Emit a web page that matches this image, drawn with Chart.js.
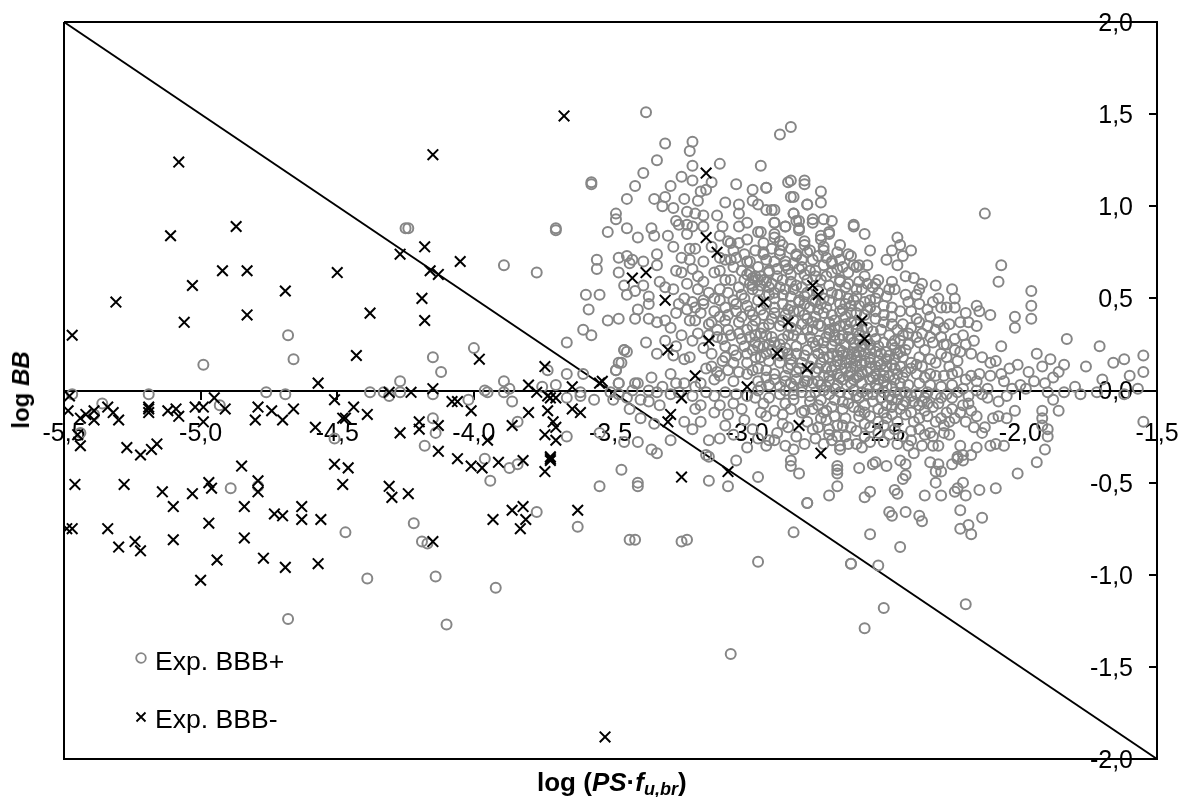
<!DOCTYPE html>
<html>
<head>
<meta charset="utf-8">
<script src="https://cdnjs.cloudflare.com/ajax/libs/Chart.js/4.4.0/chart.umd.js"></script>
<style>
    body { margin: 0; background: #fff; font-family: "Liberation Sans", Arial, sans-serif; color: #000; }
    #chartContainer { position: relative; width: 1184px; height: 797px; overflow: hidden; }
    .txt { position: absolute; white-space: nowrap; }
    #xTitle { left: 537px; top: 768px; font-size: 26px; line-height: 28px; font-weight: bold; }
    #xTitle sub { font-size: 18px; line-height: 0; vertical-align: -4px; }
    #yTitle { left: 21px; top: 390px; font-size: 24px; line-height: 28px; font-weight: bold; transform: translate(-50%, -50%) rotate(-90deg); }
    .legendText { left: 155px; font-size: 26.6px; line-height: 30px; }
    .legendMark { position: absolute; left: 134px; width: 14px; height: 14px; }
</style>
</head>
<body>
<div id="chartContainer">
    <canvas id="myChart" width="1184" height="797"></canvas>
    <div class="txt" id="xTitle">log (<i>PS</i>·<i>f<sub>u,br</sub></i>)</div>
    <div class="txt" id="yTitle">log <i>BB</i></div>
    <svg class="legendMark" style="top:651px" viewBox="0 0 14 14"><circle cx="7" cy="7" r="4.8" fill="none" stroke="#868686" stroke-width="1.8"/></svg>
    <div class="txt legendText" style="top:646px">Exp. BBB+</div>
    <svg class="legendMark" style="top:710px" viewBox="0 0 14 14"><path d="M2.5 2.5L11.5 11.5M11.5 2.5L2.5 11.5" stroke="#000" stroke-width="1.8"/></svg>
    <div class="txt legendText" style="top:704px">Exp. BBB-</div>
</div>

<script>
    // ticks
    var xTicks = [-5.5, -5, -4.5, -4, -3.5, -3, -2.5, -2, -1.5];
    var yTicks = [-2, -1.5, -1, -0.5, 0, 0.5, 1, 1.5, 2];

    // frame and diagonal line
    var frameLine = [[-5.5, 2], [-1.5, 2], [-1.5, -2], [-5.5, -2], [-5.5, 2]];
    var diagonalLine = [[-5.5, 2], [-1.5, -2]];

    // Exp. BBB- [log PS*fu, log BB]
    var expBBBMinus = [
        [-5.48,-0.03],[-5.485,-0.11],[-5.44,-0.15],[-5.42,-0.13],[-5.39,-0.11],[-5.39,-0.16],[-5.34,-0.09],[-5.32,-0.12],[-5.30,-0.16],
        [-5.19,-0.09],[-5.19,-0.10],[-5.19,-0.12],[-5.12,-0.11],[-5.09,-0.10],[-5.08,-0.14],[-5.02,-0.09],[-4.99,-0.09],[-4.95,-0.04],
        [-4.91,-0.10],[-4.99,-0.17],[-4.79,-0.09],[-4.74,-0.11],[-4.80,-0.16],[-4.70,-0.16],[-4.66,-0.10],[-4.57,0.04],[-4.51,-0.05],
        [-4.58,-0.20],[-4.47,-0.15],[-5.45,-0.24],[-5.44,-0.30],[-5.27,-0.31],[-5.22,-0.35],[-5.18,-0.32],[-5.16,-0.29],
        [-5.46,-0.51],[-5.28,-0.51],[-5.14,-0.55],[-5.10,-0.63],[-5.03,-0.56],[-4.97,-0.50],[-4.96,-0.53],[-4.85,-0.41],[-4.79,-0.49],
        [-4.79,-0.55],[-4.84,-0.63],[-4.73,-0.67],[-4.70,-0.68],[-4.63,-0.63],[-4.63,-0.70],[-4.56,-0.70],[-4.51,-0.40],[-4.46,-0.42],
        [-4.48,-0.51],[-5.49,-0.75],[-5.47,-0.75],[-5.34,-0.75],[-5.30,-0.85],[-5.24,-0.82],[-5.22,-0.87],[-5.10,-0.81],[-4.97,-0.72],
        [-4.84,-0.80],[-4.94,-0.92],[-4.77,-0.91],[-4.69,-0.96],[-4.57,-0.94],[-5.00,-1.03],
        [-4.43,0.19],[-3.98,0.17],[-3.74,0.13],[-4.31,-0.01],[-4.23,-0.01],[-4.15,0.01],[-3.80,0.03],[-3.64,0.02],[-3.53,0.05],[-3.54,0.04],
        [-4.44,-0.09],[-4.48,-0.15],[-4.39,-0.13],[-4.08,-0.06],[-4.06,-0.06],[-4.01,-0.11],[-3.77,-0.01],[-3.73,-0.03],[-3.72,-0.04],[-3.70,-0.04],
        [-3.80,-0.12],[-3.73,-0.11],[-3.64,-0.10],[-3.61,-0.12],[-4.20,-0.17],[-4.20,-0.21],[-4.13,-0.19],[-4.27,-0.23],[-3.86,-0.19],
        [-3.71,-0.17],[-3.70,-0.20],[-3.74,-0.24],[-3.70,-0.27],[-3.95,-0.27],[-4.13,-0.33],[-4.06,-0.37],[-4.01,-0.41],[-3.97,-0.42],
        [-3.91,-0.39],[-3.82,-0.38],[-3.72,-0.36],[-3.72,-0.37],[-3.72,-0.38],[-3.74,-0.44],[-4.31,-0.52],[-4.30,-0.58],[-4.24,-0.56],
        [-3.62,-0.65],[-3.86,-0.65],[-3.82,-0.63],[-3.81,-0.70],[-3.83,-0.75],[-3.93,-0.70],[-4.15,-0.82],
        [-5.47,0.30],[-5.31,0.48],[-5.11,0.84],[-5.08,1.24],[-5.06,0.37],[-5.03,0.57],[-4.92,0.65],[-4.87,0.89],[-4.83,0.65],[-4.83,0.41],
        [-4.69,0.54],[-4.50,0.64],[-4.38,0.42],[-4.27,0.74],[-4.18,0.78],[-4.19,0.50],[-4.18,0.38],[-4.16,0.65],[-4.13,0.63],[-4.15,1.28],
        [-4.05,0.70],[-3.67,1.49],[-3.52,-1.88],
        [-3.15,1.18],[-3.15,0.83],[-3.11,0.75],[-3.42,0.61],[-3.37,0.64],[-3.30,0.49],[-3.29,0.22],[-3.14,0.27],[-3.19,0.08],[-2.94,0.48],
        [-2.85,0.37],[-2.89,0.20],[-2.78,0.12],[-2.76,0.57],[-2.74,0.52],[-3.00,0.02],[-2.58,0.38],[-2.57,0.28],[-2.81,-0.19],[-2.73,-0.34],
        [-3.24,-0.04],[-3.28,-0.13],[-3.29,-0.17],[-3.24,-0.47],[-3.07,-0.44]
    ];

    // Exp. BBB+ [log PS*fu, log BB]
    var expBBBPlus = [
        // left part
        [-4.99,0.14],[-4.66,0.17],[-4.68,0.30],[-5.47,-0.02],[-5.36,-0.07],[-5.19,-0.02],[-4.93,-0.08],[-4.76,-0.01],[-4.69,-0.02],[-5.39,-0.13],
        [-5.44,-0.23],[-4.89,-0.53],[-4.79,-0.52],[-4.51,-0.26],[-4.47,-0.77],[-4.15,0.18],[-4.00,0.23],[-4.12,0.10],[-4.27,0.05],[-4.38,-0.01],
        [-4.33,-0.01],[-4.31,-0.03],[-4.27,-0.01],[-4.15,-0.02],[-4.02,-0.05],[-3.96,0],[-3.95,-0.01],[-3.89,-0.01],[-3.89,0.05],[-3.87,0.01],
        [-3.86,-0.06],[-4.15,-0.15],[-4.14,-0.23],[-4.18,-0.30],[-3.84,-0.17],[-3.96,-0.37],[-3.87,-0.42],[-3.84,-0.40],[-3.94,-0.49],[-3.77,-0.66],
        [-3.62,-0.74],[-4.22,-0.72],[-4.19,-0.82],[-4.17,-0.83],[-4.39,-1.02],[-4.14,-1.01],[-3.92,-1.07],[-3.73,0.11],[-3.66,0.09],[-3.60,0.09],
        [-3.75,0.02],[-3.70,0.03],[-3.66,-0.04],[-3.61,-0.01],[-3.61,-0.03],[-3.56,-0.05],[-3.66,-0.25],[-3.45,-0.28],[-3.40,-0.28],[-3.54,-0.23],
        [-3.46,-0.43],[-3.54,-0.52],[-3.40,-0.50],[-3.40,-0.52],[-3.43,-0.81],[-3.41,-0.81],[-3.45,0.22],[-3.44,0.21],[-3.46,0.15],[-3.48,0.11],
        [-3.47,0.04],[-3.40,0.04],[-3.42,0],[-4.25,0.88],[-4.24,0.88],[-3.89,0.68],[-3.77,0.64],[-3.70,0.87],[-3.57,1.12],[-3.37,1.51],
        [-4.68,-1.24],[-4.10,-1.27],[-3.06,-1.43],[-2.57,-1.29],[-2.50,-1.18],[-2.52,-0.95],[-2.62,-0.94],[-2.20,-1.16],[-2.96,-0.93],[-2.83,-0.77],
        [-2.78,-0.61],[-3.24,-0.82],[-3.22,-0.81],[-2.96,-0.47],[-3.07,-0.52],[-3.14,-0.49],[-3.15,-0.35],[-2.55,-0.78],[-2.44,-0.85],[-3.66,0.26],
        // upper fan
        [-2.84,1.43],[-2.88,1.39],[-3.30,1.34],[-3.20,1.35],[-3.21,1.30],[-3.33,1.25],[-3.10,1.23],[-3.20,1.22],[-3.38,1.18],[-2.95,1.22],
        [-3.57,1.13],[-3.41,1.11],[-3.24,1.16],[-3.20,1.14],[-3.28,1.11],[-3.13,1.13],[-3.04,1.12],[-2.98,1.09],[-2.93,1.10],[-2.85,1.13],
        [-2.84,1.14],[-2.79,1.14],[-2.73,1.08],[-2.73,1.02],[-2.78,1.01],[-2.84,1.05],[-3.44,1.04],[-3.34,1.04],[-3.30,1.05],[-3.31,1.00],
        [-3.27,0.99],[-3.23,1.04],[-3.18,1.03],[-3.17,1.08],[-3.15,1.09],[-3.08,1.02],[-3.03,1.01],[-2.98,1.03],[-2.96,1.01],[-2.91,0.98],
        [-2.93,0.98],[-3.48,0.96],[-3.48,0.93],[-3.70,0.88],[-3.51,0.86],[-3.44,0.88],[-3.40,0.83],[-3.35,0.88],[-3.34,0.84],[-3.29,0.84],
        [-3.27,0.78],[-3.26,0.92],[-3.25,0.90],[-3.22,0.90],[-3.20,0.89],[-3.22,0.85],[-3.22,0.97],[-3.19,0.96],[-3.16,0.95],[-3.16,0.89],
        [-3.11,0.95],[-3.09,0.89],[-3.03,0.96],[-3.03,0.89],[-3.00,0.91],[-2.96,0.86],[-2.90,0.91],[-2.90,0.85],[-2.86,0.89],[-2.83,0.96],
        [-2.82,0.92],[-2.81,0.88],[-2.76,0.91],[-2.72,0.93],[-2.69,0.92],[-2.70,0.86],[-2.61,0.90],[-2.73,0.84],[-2.79,0.81],[-2.72,0.78],
        [-2.66,0.79],[-3.21,0.77],[-3.19,0.77],[-3.07,0.81],[-3.03,0.80],[-3.55,0.71],[-3.55,0.66],[-3.47,0.72],[-3.44,0.73],[-3.42,0.71],
        [-3.47,0.64],[-3.38,0.70],[-3.33,0.74],[-3.33,0.68],[-3.43,0.69],[-3.24,0.72],[-3.21,0.71],[-3.26,0.65],[-3.24,0.64],[-3.20,0.66],
        [-3.10,0.65],[-3.16,0.59],[-3.06,0.80],[-3.06,0.71],[-3.05,0.76],[-3.00,0.82],[-3.00,0.63],[-2.99,0.64],[-3.02,0.65],[-2.98,0.61],
        [-2.94,0.74],[-2.92,0.65],[-2.86,0.68],[-2.82,0.74],[-2.80,0.67],[-2.75,0.65],[-2.69,0.69],[-2.63,0.74],[-2.60,0.67],[-2.66,0.59],
        [-3.45,0.57],[-3.44,0.52],[-3.41,0.54],[-3.38,0.57],[-3.32,0.59],[-3.30,0.56],[-3.36,0.51],[-3.36,0.47],[-3.59,0.52],[-3.54,0.52],
        [-3.58,0.44],[-3.40,0.44],[-3.51,0.38],[-3.47,0.39],[-3.41,0.39],[-3.36,0.39],[-3.60,0.33],[-3.57,0.30],[-3.33,0.37],[-3.30,0.38],
        [-3.28,0.34],[-3.26,0.42],[-3.23,0.50],[-3.22,0.44],[-3.19,0.38],[-3.16,0.47],[-3.24,0.30],[-3.37,0.26],[-3.33,0.20],[-3.30,0.27],
        [-3.45,0.22],[-3.47,0.15],[-3.48,0.11],[-3.47,0.04],[-3.41,0.04],[-3.35,0.07],[-3.28,0.09],[-3.21,0.18],[-3.14,0.30],[-3.16,0.23],
        [-3.13,0.20],[-3.09,0.28],[-3.08,0.24],[-3.13,0.13],[-3.23,0.04],[-3.17,0.04],[-3.10,0.08],[-3.05,0.15],[-3.02,0.28],[-2.97,0.18],
        [-2.98,0.11],[-2.93,0.11],[-2.94,0.24],[-3.03,0.37],[-2.98,0.35],[-3.13,0.37],[-3.08,0.38],[-3.16,0.49],[-3.14,0.53],[-3.10,0.49],
        [-3.05,0.49],[-3.10,0.55],[-2.98,0.55],[-2.95,0.57],[-2.90,0.53],[-2.86,0.55],[-2.81,0.49],
        // right edge
        [-2.13,0.96],[-2.07,0.68],[-2.08,0.59],[-1.96,0.54],[-1.96,0.46],[-1.96,0.39],[-2.02,0.40],[-2.02,0.34],[-1.83,0.28],[-2.07,0.24],
        [-1.94,0.20],[-1.89,0.17],[-1.84,0.14],[-1.92,0.13],[-1.86,0.10],[-1.88,0.07],[-1.97,0.10],[-1.95,0.05],[-1.91,0.04],[-2.01,0.14],
        [-2.04,0.12],[-2.09,0.16],[-2.11,0.15],[-2.06,0.05],[-2.07,0.09],[-2.11,0.41],[-2.16,0.46],[-2.15,0.43],[-2.16,0.35],[-2.20,0.42],
        [-2.22,0.37],[-2.19,0.37],[-2.21,0.30],[-2.24,0.50],[-2.24,0.45],[-2.25,0.55],[-2.31,0.57],[-2.32,0.48],[-2.29,0.45],[-2.33,0.40],
        [-2.30,0.37],[-2.26,0.36],[-2.37,0.47],[-2.39,0.61],[-2.36,0.58],[-2.37,0.55],[-2.42,0.62],[-2.46,0.55],[-2.42,0.52],[-2.45,0.83],
        [-2.44,0.79],[-2.40,0.76],[-2.47,0.76],[-2.43,0.73],[-2.49,0.71],[-2.45,0.68],[-2.55,0.76],[-2.57,0.85],[-2.61,0.89],[-2.47,0.59],
        [-2.52,0.60],[-2.50,0.46],[-2.47,0.45],[-2.55,0.45],[-2.40,0.43],[-2.38,0.39],[-2.37,0.37],[-2.43,0.36],[-2.47,0.40],[-2.37,0.26],
        [-2.33,0.29],[-2.29,0.29],[-2.32,0.26],[-2.28,0.25],[-2.37,0.18],[-2.33,0.17],[-2.31,0.15],[-2.27,0.18],[-2.22,0.21],[-2.18,0.20],
        [-2.14,0.18],[-2.23,0.16],[-2.26,0.13],[-2.18,0.08],[-2.15,0.09],[-2.20,0.06],[-2.16,0.05],[-2.11,0.08],[-2.42,0.22],[-2.45,0.20],
        [-2.42,0.10],[-2.38,0.09],[-2.33,0.09],[-2.28,0.08],[-1.80,0.02],[-1.76,0.13],[-1.71,0.24],[-1.66,0.15],[-1.62,0.17],[-1.55,0.19],
        [-1.55,0.10],[-1.60,0.08],[-1.70,0.06],[-1.78,-0.02],[-1.72,-0.01],[-1.55,-0.17],[-1.62,-0.02],[-1.57,0.01],
        // upper right of the cloud
        [-2.93,1.10],[-2.79,1.12],[-2.83,1.05],[-2.78,1.01],[-2.83,0.96],[-2.90,0.98],[-2.81,0.92],[-2.90,0.91],[-2.76,0.93],[-2.86,0.89],
        [-2.81,0.87],[-2.70,0.85],[-2.95,0.86],[-2.90,0.83],[-2.88,0.81],[-2.79,0.79],[-2.73,0.82],[-2.72,0.76],[-2.77,0.76],[-2.82,0.73],
        [-2.88,0.74],[-2.94,0.75],[-2.62,0.73],[-2.66,0.71],[-2.69,0.70],[-2.76,0.71],[-2.86,0.70],[-2.81,0.66],[-2.92,0.64],[-2.61,0.68],
        [-2.59,0.68],[-2.56,0.68],[-2.75,0.62],[-2.71,0.62],[-2.66,0.60],[-2.63,0.58],[-2.59,0.59],[-2.54,0.56],[-2.53,0.58],[-2.87,0.60],
        [-2.94,0.60],[-2.82,0.57],[-2.74,0.54],[-2.67,0.52],[-2.62,0.46],[-2.66,0.43],[-2.71,0.45],[-2.77,0.45],[-2.81,0.48],[-2.87,0.47],[-2.92,0.52],
        // lower part
        [-2.78,-0.61],[-2.70,-0.57],[-2.67,-0.52],[-2.81,-0.45],[-2.84,-0.41],[-2.84,-0.38],[-2.83,-0.32],[-2.86,-0.30],[-2.90,-0.27],[-2.93,-0.30],
        [-2.89,-0.23],[-2.87,-0.18],[-2.67,-0.41],[-2.67,-0.43],[-2.67,-0.45],[-2.66,-0.30],[-2.66,-0.32],[-2.60,-0.29],[-2.63,-0.29],[-2.59,-0.42],
        [-2.54,-0.40],[-2.53,-0.39],[-2.49,-0.41],[-2.44,-0.38],[-2.42,-0.40],[-2.55,-0.55],[-2.57,-0.58],[-2.46,-0.54],[-2.45,-0.56],[-2.42,-0.46],
        [-2.43,-0.48],[-2.35,-0.57],[-2.29,-0.57],[-2.31,-0.50],[-2.33,-0.39],[-2.30,-0.40],[-2.31,-0.44],[-2.29,-0.44],[-2.25,-0.40],[-2.23,-0.37],
        [-2.21,-0.35],[-2.21,-0.38],[-2.18,-0.35],[-2.16,-0.31],[-2.21,-0.50],[-2.23,-0.53],[-2.24,-0.55],[-2.20,-0.57],[-2.15,-0.54],[-2.09,-0.53],
        [-2.01,-0.45],[-1.94,-0.39],[-1.91,-0.32],[-2.11,-0.30],[-2.09,-0.29],[-2.06,-0.30],[-2.14,-0.23],[-2.17,-0.20],[-2.13,-0.20],[-2.16,-0.14],
        [-2.10,-0.15],[-2.08,-0.14],[-2.05,-0.15],[-2.02,-0.11],[-2.08,-0.06],[-2.05,-0.03],[-1.90,-0.21],[-1.90,-0.25],[-1.92,-0.19],[-1.92,-0.15],
        [-1.92,-0.11],[-1.86,-0.11],[-1.88,-0.05],[-1.84,-0.01],[-1.90,-0.01],[-1.98,0.01],[-2.48,-0.66],[-2.47,-0.68],[-2.42,-0.66],[-2.37,-0.68],
        [-2.36,-0.71],[-2.22,-0.65],[-2.22,-0.75],[-2.19,-0.73],[-2.18,-0.78],[-2.14,-0.69],[-2.62,-0.94],[-2.70,-0.21],[-2.70,-0.24],[-2.67,-0.19],
        [-2.67,-0.25],[-2.76,-0.21],[-2.80,-0.12],[-2.83,-0.05],[-2.79,-0.11],[-2.71,-0.11],[-2.69,-0.09],[-2.64,-0.15],[-2.62,-0.20],[-2.59,-0.14],
        [-2.55,-0.28],[-2.52,-0.23],[-2.48,-0.24],[-2.45,-0.29],[-2.41,-0.30],[-2.39,-0.34],[-2.36,-0.30],[-2.32,-0.30],[-2.30,-0.30],[-2.33,-0.23],
        [-2.32,-0.25],[-2.28,-0.23],[-2.26,-0.24],[-2.37,-0.15],[-2.40,-0.22],[-2.37,-0.21],[-2.29,-0.15],[-2.27,-0.12],[-2.25,-0.10],[-2.22,-0.30],
        [-2.23,-0.36],[-2.32,-0.09],[-2.37,-0.08],[-2.42,-0.06],[-2.47,-0.13],[-2.49,-0.15],[-2.45,-0.17],[-2.59,-0.11],[-2.65,-0.10],[-2.59,-0.04],
        [-2.54,-0.06],[-2.51,-0.04],[-2.47,-0.05],[-2.44,-0.02],[-2.38,-0.02],[-2.29,-0.04],[-2.25,-0.04],[-2.19,-0.03],[-2.21,-0.08],[-2.30,-0.07],
        [-2.19,-0.07],[-2.83,-0.02],[-2.77,-0.03],[-2.70,-0.02],[-2.66,-0.01],[-2.60,-0.03],[-2.92,-0.04],[-2.90,-0.11],[-2.94,-0.07],[-2.93,-0.14],
        [-3.49,-0.05],[-3.44,-0.04],[-3.36,-0.06],[-3.34,-0.18],[-3.39,-0.15],[-3.43,-0.10],[-3.35,-0.32],[-3.33,-0.34],[-3.28,-0.27],[-3.23,-0.17],
        [-3.17,-0.08],[-3.14,-0.27],[-3.08,-0.19],[-3.14,-0.36],[-3.04,-0.38],[-3.00,-0.31],[-2.92,-0.27],[-3.01,-0.16],[-2.95,-0.12],[-3.10,-0.08],
        [-3.19,-0.10],[-3.32,-0.08],[-3.25,-0.01],[-3.04,-0.02],[-2.97,-0.04],[-3.39,-0.05],[-3.47,-0.02],[-3.50,-0.01],[-3.12,-0.03],[-3.20,-0.03],
        // dense core
        [-2.95,0.44],[-2.90,0.42],[-2.86,0.41],[-2.83,0.43],[-2.79,0.41],[-2.75,0.40],[-2.72,0.42],[-2.68,0.38],[-2.64,0.40],[-2.60,0.42],
        [-2.57,0.41],[-2.53,0.39],[-2.50,0.37],[-2.45,0.33],[-2.41,0.31],[-2.97,0.38],[-2.92,0.36],[-2.88,0.35],[-2.84,0.34],[-2.80,0.36],
        [-2.76,0.33],[-2.73,0.35],[-2.70,0.33],[-2.66,0.35],[-2.63,0.33],[-2.60,0.36],[-2.56,0.34],[-2.54,0.32],[-2.51,0.33],[-2.48,0.30],
        [-2.95,0.31],[-2.91,0.29],[-2.87,0.28],[-2.83,0.30],[-2.80,0.28],[-2.77,0.29],[-2.74,0.27],[-2.71,0.29],[-2.68,0.27],[-2.65,0.30],
        [-2.62,0.28],[-2.59,0.30],[-2.56,0.27],[-2.53,0.28],[-2.50,0.26],[-2.47,0.25],[-2.44,0.27],[-2.41,0.25],[-2.96,0.24],[-2.91,0.22],
        [-2.86,0.23],[-2.82,0.24],[-2.78,0.22],[-2.75,0.24],[-2.72,0.22],[-2.69,0.24],[-2.66,0.22],[-2.64,0.25],[-2.61,0.23],[-2.58,0.24],
        [-2.55,0.22],[-2.52,0.24],[-2.49,0.21],[-2.46,0.23],[-2.43,0.18],[-2.40,0.15],[-2.92,0.16],[-2.88,0.15],[-2.84,0.17],[-2.80,0.15],
        [-2.76,0.17],[-2.73,0.15],[-2.70,0.18],[-2.67,0.16],[-2.65,0.19],[-2.62,0.17],[-2.60,0.19],[-2.57,0.16],[-2.55,0.18],[-2.52,0.16],
        [-2.49,0.17],[-2.47,0.14],[-2.44,0.13],[-2.40,0.12],[-2.36,0.13],[-2.90,0.09],[-2.86,0.08],[-2.82,0.10],[-2.78,0.08],[-2.75,0.10],
        [-2.72,0.08],[-2.69,0.11],[-2.67,0.09],[-2.64,0.12],[-2.62,0.10],[-2.60,0.13],[-2.58,0.10],[-2.55,0.12],[-2.53,0.09],[-2.50,0.11],
        [-2.48,0.08],[-2.45,0.09],[-2.92,0.03],[-2.88,0.02],[-2.84,0.04],[-2.80,0.02],[-2.76,0.04],[-2.73,0.03],[-2.70,0.05],[-2.67,0.03],
        [-2.65,0.06],[-2.62,0.04],[-2.60,0.07],[-2.58,0.04],[-2.55,0.06],[-2.53,0.03],[-2.50,0.05],[-2.47,0.02],[-2.44,0.04],[-2.41,0.03],
        [-2.37,0.04],[-2.33,0.03],[-2.29,0.02],[-2.25,0.03],[-2.21,0.01],[-2.16,0],[-2.12,0.01],[-2.77,-0.06],[-2.73,-0.05],[-2.68,-0.05],
        [-2.63,-0.07],[-2.57,-0.08],[-2.52,-0.10],[-2.49,-0.08],[-2.44,-0.10],[-2.40,-0.12],[-2.35,-0.11],[-2.26,-0.17],[-2.57,-0.18],[-2.52,-0.17],
        [-2.73,-0.15],[-2.75,-0.26],[-3.00,0.46],[-3.04,0.43],[-3.08,0.45],[-3.12,0.43],[-3.06,0.30],[-3.11,0.33],[-3.01,0.24],[-3.04,0.19],
        [-3.00,0.09],[-3.05,0.05],[-2.96,0.12],[-2.90,0.50],[-2.84,0.51],[-2.78,0.53],[-2.70,0.49],[-2.66,0.52],[-2.60,0.51],[-2.57,0.48],
        [-2.53,0.50],[-2.49,0.51],[-3.00,0.70],[-2.96,0.67],[-2.90,0.70],[-2.84,0.63],[-2.78,0.60],[-2.70,0.57],[-2.58,0.55],[-3.06,0.60],
        [-3.12,0.64],[-3.18,0.55],[-3.20,0.48],[-3.08,0.71],[-3.13,0.78],[-3.16,0.70],[-3.10,0.84],[-2.94,0.80],[-2.88,0.76],
        // second pass over the thick areas
        [-2.70,0.31],[-2.68,0.30],[-2.66,0.28],[-2.63,0.29],[-2.61,0.26],[-2.59,0.27],[-2.57,0.25],[-2.55,0.25],[-2.53,0.21],[-2.51,0.20],
        [-2.69,0.20],[-2.67,0.19],[-2.65,0.21],[-2.63,0.20],[-2.61,0.20],[-2.59,0.21],[-2.57,0.20],[-2.55,0.15],[-2.53,0.13],[-2.51,0.14],
        [-2.68,0.13],[-2.66,0.14],[-2.64,0.15],[-2.62,0.13],[-2.60,0.16],[-2.58,0.14],[-2.56,0.10],[-2.54,0.07],[-2.52,0.06],[-2.50,0.08],
        [-2.74,0.20],[-2.72,0.18],[-2.77,0.13],[-2.74,0.12],[-2.71,0.12],[-2.70,0.08],[-2.66,0.07],[-2.63,0.08],[-2.61,0.06],[-2.59,0.08],
        [-2.72,0.26],[-2.76,0.26],[-2.79,0.19],[-2.82,0.20],[-2.81,0.12],[-2.85,0.12],[-2.78,0.05],[-2.74,0.05],[-2.71,0.02],[-2.68,0.01],
        [-2.56,0.01],[-2.52,0.01],[-2.49,0.02],[-2.46,0.06],[-2.43,0.07],[-2.46,0.12],[-2.49,0.13],[-2.46,0.17],[-2.44,0.21],[-2.48,0.19],
        [-2.64,0.36],[-2.62,0.37],[-2.60,0.33],[-2.58,0.33],[-2.68,0.34],[-2.70,0.37],[-2.74,0.36],[-2.78,0.33],[-2.82,0.33],[-2.85,0.30],
        [-2.88,0.25],[-2.85,0.20],[-2.92,0.25],[-2.88,0.19],[-2.95,0.18],[-2.98,0.22],[-2.99,0.29],[-2.94,0.34],[-2.91,0.39],[-2.87,0.38],
        [-2.83,0.38],[-2.78,0.39],[-2.74,0.44],[-2.69,0.41],[-2.65,0.44],[-2.62,0.42],[-2.56,0.44],[-2.53,0.43],[-2.50,0.41],[-2.47,0.36],
        [-2.98,0.57],[-2.96,0.60],[-2.99,0.58],[-2.97,0.62],[-2.95,0.62],[-2.93,0.59],[-3.01,0.60],[-2.91,0.58],[-2.89,0.62],[-2.88,0.56],
        [-2.99,0.43],[-2.96,0.49],[-2.93,0.47],[-3.02,0.52],[-3.03,0.56],[-3.07,0.53],[-3.12,0.50],[-3.08,0.60],[-3.05,0.67],[-3.10,0.72],
        [-3.18,0.62],[-3.22,0.58],[-3.27,0.55],[-3.25,0.47],[-3.21,0.38],[-3.18,0.31],[-3.20,0.27],[-3.26,0.24],[-3.23,0.17],[-3.27,0.19],
        [-3.09,0.16],[-3.07,0.11],[-3.03,0.10],[-3.00,0.15],[-2.96,0.05],[-2.93,0.07],[-3.12,0.06],[-3.19,0.02],[-3.26,0.04],[-3.31,0.02],
        [-3.36,0.00],[-3.33,-0.01],[-3.28,-0.02],[-3.15,-0.01],[-3.08,-0.01],[-3.00,-0.03],[-2.96,0.00],[-2.88,-0.02],[-2.86,-0.07],[-2.74,-0.08],
        [-2.56,-0.02],[-2.50,-0.01],[-2.46,-0.01],[-2.42,-0.01],[-2.40,-0.03],[-2.35,-0.04],[-2.34,-0.01],[-2.31,-0.02],[-2.27,-0.02],[-2.23,-0.01],
        [-2.14,-0.02],[-2.12,-0.04],[-2.03,0.01],[-2.00,0.03],[-2.46,0.27],[-2.43,0.30],[-2.40,0.34],[-2.38,0.29],[-2.35,0.22],[-2.38,0.14],
        [-2.66,0.47],[-2.63,0.50],[-2.59,0.46],[-2.55,0.49],[-2.75,0.48],[-2.72,0.50],[-2.79,0.47],[-2.84,0.46],[-2.80,0.56],[-2.84,0.59],
        [-2.77,0.65],[-2.72,0.68],[-2.67,0.66],[-2.63,0.64],[-2.64,0.56],[-2.60,0.55],[-2.56,0.58],[-2.57,0.62],[-2.52,0.53],[-2.48,0.55],
        // third pass, mid cloud and below the axis
        [-3.04,0.72],[-3.01,0.74],[-2.97,0.76],[-2.99,0.70],[-2.93,0.71],[-2.91,0.77],[-2.87,0.79],[-2.84,0.77],[-2.80,0.71],[-2.78,0.75],
        [-2.74,0.73],[-2.71,0.72],[-2.67,0.75],[-2.65,0.67],[-2.85,0.66],[-2.83,0.69],[-2.79,0.63],[-2.73,0.60],[-2.69,0.64],[-2.89,0.66],
        [-2.96,0.54],[-2.92,0.56],[-2.87,0.52],[-2.83,0.55],[-2.79,0.51],[-2.76,0.49],[-2.73,0.47],[-2.69,0.53],[-2.64,0.47],[-2.61,0.49],
        [-3.01,0.50],[-3.04,0.47],[-3.07,0.41],[-3.02,0.40],[-2.98,0.41],[-2.94,0.41],[-2.90,0.45],[-2.85,0.44],[-2.81,0.43],[-2.76,0.37],
        [-3.10,0.40],[-3.14,0.36],[-3.17,0.42],[-3.19,0.45],[-3.11,0.29],[-3.07,0.33],[-3.03,0.31],[-3.00,0.33],[-2.97,0.30],[-2.93,0.30],
        [-3.15,0.12],[-3.11,0.10],[-3.08,0.18],[-3.05,0.22],[-3.00,0.20],[-2.97,0.26],[-2.93,0.20],[-2.90,0.26],[-2.87,0.21],[-2.84,0.14],
        [-2.95,0.02],[-2.90,0.06],[-2.86,0.05],[-2.82,0.06],[-2.79,0.05],[-2.83,0.02],[-2.86,0.00],[-2.80,-0.01],[-2.75,-0.01],[-2.72,0.00],
        [-2.63,-0.02],[-2.61,0.00],[-2.58,-0.01],[-2.54,-0.02],[-2.48,-0.03],[-2.45,-0.05],[-2.43,-0.08],[-2.39,-0.06],[-2.36,-0.06],[-2.34,-0.07],
        [-2.76,-0.10],[-2.72,-0.12],[-2.68,-0.14],[-2.65,-0.06],[-2.61,-0.09],[-2.57,-0.12],[-2.55,-0.14],[-2.50,-0.12],[-2.47,-0.09],[-2.42,-0.13],
        [-2.39,-0.17],[-2.34,-0.14],[-2.31,-0.17],[-2.28,-0.19],[-2.24,-0.15],[-2.22,-0.12],[-2.20,-0.17],[-2.18,-0.11],[-2.78,-0.17],[-2.74,-0.20],
        [-2.71,-0.16],[-2.65,-0.19],[-2.60,-0.22],[-2.55,-0.20],[-2.50,-0.19],[-2.46,-0.21],[-2.43,-0.25],[-2.40,-0.27],[-2.35,-0.24],[-2.57,-0.25],
        [-2.84,-0.10],[-2.87,-0.13],[-2.85,-0.20],[-2.82,-0.25],[-2.79,-0.29],[-2.72,-0.29],[-2.69,-0.27],[-2.64,-0.25],[-2.58,-0.31],[-2.50,-0.28],
        [-3.05,-0.07],[-3.02,-0.10],[-3.07,-0.13],[-3.12,-0.12],[-3.17,-0.17],[-3.20,-0.21],[-3.10,-0.26],[-3.05,-0.24],[-2.98,-0.21],[-2.96,-0.26],
        [-2.36,0.31],[-2.34,0.35],[-2.31,0.33],[-2.28,0.34],[-2.34,0.44],[-2.30,0.50],[-2.27,0.45],[-2.41,0.48],[-2.44,0.43],[-2.38,0.52],
        [-2.27,0.25],[-2.24,0.28],[-2.20,0.25],[-2.17,0.27],[-2.24,0.22],[-2.29,0.20],[-2.25,0.09],[-2.23,0.10],[-2.31,0.08],[-2.35,0.07]
    ];

    function toPoints(list) {
        return list.map(function (p) { return { x: p[0], y: p[1] }; });
    }

    function commaLabel(value) {
        return value.toFixed(1).replace('.', ',');
    }

    var ctx = document.getElementById('myChart').getContext('2d');
    var myChart = new Chart(ctx, {
        type: 'scatter',
        data: {
            datasets: [
                {
                    label: 'Exp. BBB-',
                    data: toPoints(expBBBMinus),
                    pointStyle: 'crossRot',
                    pointRadius: 7.5,
                    pointBorderWidth: 2,
                    pointBorderColor: '#000',
                    showLine: false
                },
                {
                    label: 'Exp. BBB+',
                    data: toPoints(expBBBPlus),
                    pointStyle: 'circle',
                    pointRadius: 5,
                    pointBorderWidth: 2,
                    pointBorderColor: '#868686',
                    pointBackgroundColor: 'rgba(0,0,0,0)',
                    showLine: false
                },
                {
                    label: 'diagonal',
                    data: toPoints(diagonalLine),
                    showLine: true,
                    pointRadius: 0,
                    borderColor: '#000',
                    borderWidth: 2,
                    clip: false
                },
                {
                    label: 'frame',
                    data: toPoints(frameLine),
                    showLine: true,
                    pointRadius: 0,
                    borderColor: '#000',
                    borderWidth: 2,
                    clip: false
                }
            ]
        },
        options: {
            responsive: false,
            animation: false,
            events: [],
            layout: { padding: { left: 64, right: 27, top: 22, bottom: 38 } },
            plugins: { legend: { display: false }, tooltip: { enabled: false } },
            scales: {
                x: {
                    type: 'linear',
                    min: -5.5,
                    max: -1.5,
                    position: { y: 0 },
                    // no room for the axis, the plot area is set by the padding
                    afterFit: function (scale) { scale.height = 0; scale.paddingLeft = 0; scale.paddingRight = 0; },
                    afterBuildTicks: function (scale) { scale.ticks = xTicks.map(function (v) { return { value: v }; }); },
                    border: { color: '#000', width: 2 },
                    grid: { drawOnChartArea: false, color: '#000', lineWidth: 2, tickLength: 8 },
                    ticks: {
                        autoSkip: false,
                        maxRotation: 0,
                        padding: 21,
                        color: '#000',
                        font: { family: '"Liberation Sans"', size: 25 },
                        callback: commaLabel
                    }
                },
                y: {
                    type: 'linear',
                    min: -2,
                    max: 2,
                    position: 'right',
                    afterFit: function (scale) { scale.width = 0; scale.paddingTop = 0; scale.paddingBottom = 0; },
                    afterBuildTicks: function (scale) { scale.ticks = yTicks.map(function (v) { return { value: v }; }); },
                    border: { color: '#000', width: 2 },
                    grid: { drawOnChartArea: false, color: '#000', lineWidth: 2, tickLength: -8 },
                    ticks: {
                        autoSkip: false,
                        mirror: true,
                        padding: -24,
                        labelOffset: 2,
                        color: '#000',
                        font: { family: '"Liberation Sans"', size: 25 },
                        callback: commaLabel
                    }
                }
            }
        }
    });
</script>
</body>
</html>
